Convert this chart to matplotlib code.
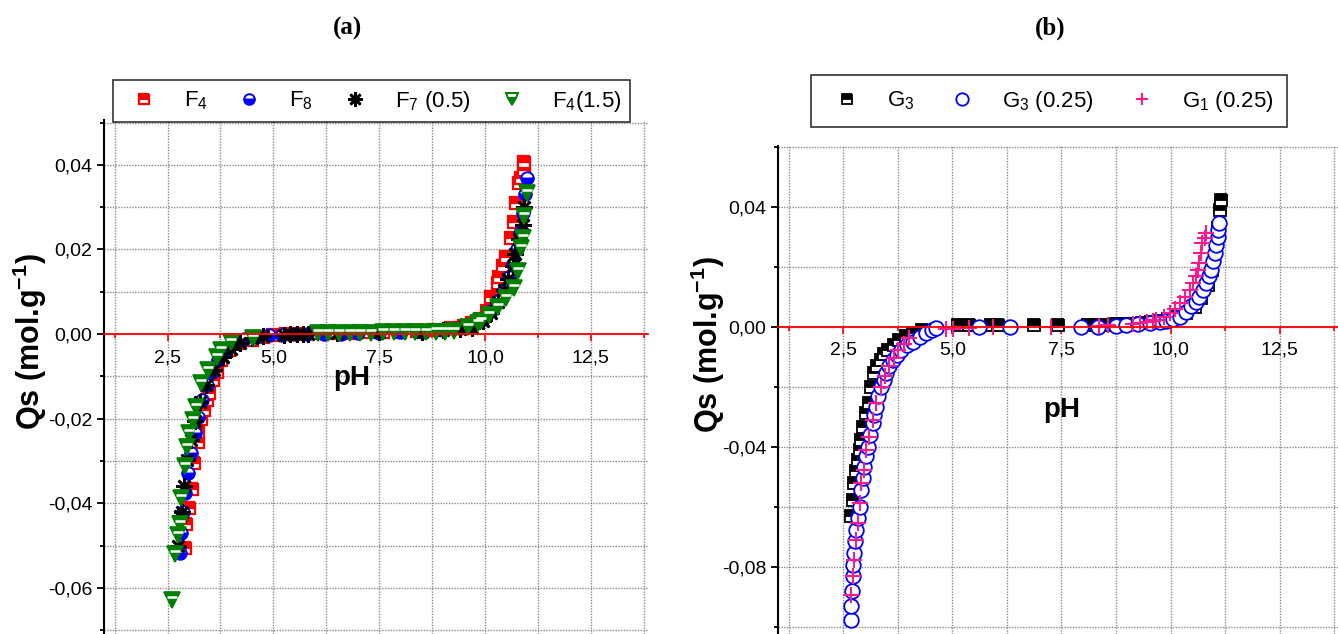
import numpy as np
import matplotlib
matplotlib.use('Agg')
import matplotlib.pyplot as plt
from matplotlib.ticker import MultipleLocator, FuncFormatter
from matplotlib.transforms import ScaledTranslation
from matplotlib.lines import Line2D

plt.rcParams['font.family'] = ['Liberation Sans Narrow', 'Liberation Sans', 'DejaVu Sans']
plt.rcParams['mathtext.fontset'] = 'custom'
plt.rcParams['mathtext.rm'] = 'Liberation Sans Narrow'
plt.rcParams['mathtext.bf'] = 'Liberation Sans:bold'
plt.rcParams['mathtext.default'] = 'regular'

# ---- panel (a) data ----
f4_ph = [2.91, 2.93, 3.00, 3.07, 3.13, 3.22, 3.22, 3.30, 3.37, 3.44, 3.48, 3.58, 3.68, 3.77,
         3.96, 4.17, 4.50, 4.75, 5.0, 5.3, 5.6, 6.0, 6.4, 6.8, 7.2, 7.6, 8.0, 8.4, 8.8, 9.2,
         9.5, 9.7, 9.9, 10.05, 10.14, 10.3, 10.33, 10.42, 10.5, 10.61, 10.68, 10.73, 10.8,
         10.86, 10.91, 10.91]
f4_qs = [-0.0505, -0.0450, -0.0410, -0.0366, -0.0305, -0.0254, -0.0231, -0.0200, -0.0180,
         -0.0156, -0.0140, -0.0109, -0.0089, -0.0061, -0.0038, -0.0021, -0.0014, -0.0006,
         -0.0003, 0.0, 0.0001, 0.0002, 0.0003, 0.0003, 0.0004, 0.0005, 0.0006, 0.0008,
         0.0010, 0.0014, 0.0020, 0.0027, 0.0035, 0.0055, 0.0088, 0.0120, 0.0135, 0.0160,
         0.0182, 0.0227, 0.0265, 0.0310, 0.0356, 0.0370, 0.0387, 0.0407]

f8_ph = [2.79, 2.82, 2.86, 2.92, 2.99, 3.06, 3.14, 3.22, 3.32, 3.43, 3.55, 3.70, 3.86, 4.05,
         4.3, 4.6, 4.9, 5.2, 5.5, 5.8, 6.2, 6.6, 7.0, 7.5, 8.0, 8.5, 9.0, 9.4, 9.7, 9.95,
         10.15, 10.3, 10.45, 10.56, 10.66, 10.75, 10.83, 10.89, 10.95, 11.0]
f8_qs = [-0.0518, -0.0470, -0.0420, -0.0375, -0.0329, -0.0280, -0.0235, -0.0195, -0.0155,
         -0.0120, -0.0090, -0.0062, -0.0040, -0.0024, -0.0012, -0.0006, -0.0003, -0.0002,
         -0.0001, 0.0, 0.0, 0.0001, 0.0002, 0.0003, 0.0004, 0.0006, 0.0009, 0.0014, 0.0022,
         0.0035, 0.0055, 0.0078, 0.0105, 0.0135, 0.0165, 0.0200, 0.0240, 0.0285, 0.0330, 0.0370]

f7_ph = [2.75, 2.79, 2.85, 2.89, 2.96, 3.05, 3.15, 3.27, 3.42, 3.60, 3.80, 4.00, 4.21, 4.50,
         4.76, 5.26, 5.40, 5.55, 5.70, 5.82, 6.5, 7.5, 8.5, 9.0, 9.4, 9.7, 9.95, 10.15, 10.3,
         10.45, 10.55, 10.65, 10.72, 10.80, 10.89, 10.92]
f7_qs = [-0.0500, -0.0431, -0.0420, -0.0360, -0.0297, -0.0250, -0.0205, -0.0160, -0.0120,
         -0.0085, -0.0055, -0.0035, -0.0020, -0.0010, -0.0005, -0.0002, -0.0001, 0.0, 0.0,
         0.0, 0.0002, 0.0004, 0.0006, 0.0009, 0.0012, 0.0015, 0.0030, 0.0050, 0.0075, 0.0105,
         0.0130, 0.0160, 0.0190, 0.0225, 0.0257, 0.0300]

f415_ph = [2.61, 2.67, 2.74, 2.79, 2.83, 2.91, 2.97, 3.01, 3.11, 3.18, 3.30, 3.46, 3.66, 3.77,
           4.01, 4.52, 6.05, 6.29, 6.55, 6.80, 7.05, 7.31, 7.60, 7.85, 8.10, 8.35, 8.60, 8.85,
           9.05, 9.27, 9.59, 9.83, 9.90, 10.10, 10.30, 10.50, 10.68, 10.78, 10.85, 10.89,
           10.93, 11.0]
f415_qs = [-0.0628, -0.0520, -0.0474, -0.0450, -0.0387, -0.0313, -0.0266, -0.0234, -0.0203,
           -0.0172, -0.0116, -0.0085, -0.0054, -0.0038, -0.0018, -0.0010, 0.0002, 0.0002,
           0.0002, 0.0003, 0.0003, 0.0003, 0.0004, 0.0004, 0.0004, 0.0005, 0.0005, 0.0006,
           0.0006, 0.0008, 0.0017, 0.0025, 0.0030, 0.0045, 0.0065, 0.0085, 0.0108, 0.0150,
           0.0203, 0.0227, 0.0280, 0.0333]

# ---- panel (b) data ----
g3_ph = [2.68, 2.71, 2.75, 2.79, 2.83, 2.87, 2.91, 2.96, 3.02, 3.08, 3.14, 3.21, 3.28, 3.36,
         3.44, 3.52, 3.65, 3.78, 3.93, 4.09, 4.30, 5.12, 5.39, 5.89, 6.04, 6.88, 7.42, 8.10,
         8.30, 8.55, 8.75, 8.95, 9.13, 9.35, 9.55, 9.75, 9.95, 10.15, 10.35, 10.55, 10.70,
         10.85, 10.95, 11.05, 11.10, 11.14, 11.16]
g3_qs = [-0.0633, -0.0578, -0.0522, -0.0480, -0.0444, -0.0410, -0.0378, -0.0335, -0.0289,
         -0.0256, -0.0200, -0.0156, -0.0130, -0.0111, -0.0092, -0.0078, -0.0060, -0.0044,
         -0.0030, -0.0022, -0.0012, 0.0005, 0.0005, 0.0005, 0.0005, 0.0005, 0.0005, 0.0005,
         0.0006, 0.0006, 0.0007, 0.0008, 0.0009, 0.0011, 0.0014, 0.0018, 0.0024, 0.0032,
         0.0045, 0.0065, 0.0095, 0.0140, 0.0190, 0.0260, 0.0330, 0.0389, 0.0422]

g3b_ph = [2.68, 2.68, 2.70, 2.71, 2.73, 2.75, 2.77, 2.79, 2.83, 2.87, 2.91, 2.94, 2.97, 3.01,
          3.06, 3.11, 3.17, 3.21, 3.25, 3.30, 3.36, 3.42, 3.48, 3.55, 3.63, 3.72, 3.82, 3.95,
          4.09, 4.25, 4.40, 4.52, 4.63, 5.62, 6.31, 7.95, 8.33, 8.75, 8.98, 9.25, 9.52, 9.75,
          9.90, 10.05, 10.21, 10.35, 10.47, 10.58, 10.66, 10.75, 10.82, 10.88, 10.93, 10.98,
          11.01, 11.05, 11.08, 11.10, 11.12]
g3b_qs = [-0.0978, -0.0933, -0.0880, -0.0833, -0.0795, -0.0756, -0.0715, -0.0678, -0.0638,
          -0.0600, -0.0544, -0.0505, -0.0467, -0.0432, -0.0400, -0.0360, -0.0322, -0.0295,
          -0.0267, -0.0232, -0.0200, -0.0178, -0.0156, -0.0133, -0.0111, -0.0094, -0.0078,
          -0.0062, -0.0050, -0.0035, -0.0022, -0.0012, -0.0005, 0.0, 0.0, 0.0, 0.0, 0.0003,
          0.0005, 0.0008, 0.0012, 0.0015, 0.0017, 0.0024, 0.0033, 0.0048, 0.0067, 0.0083,
          0.0100, 0.0122, 0.0145, 0.0167, 0.0189, 0.0218, 0.0245, 0.0272, 0.0300, 0.0322, 0.0346]

g1_ph = [2.68, 2.71, 2.75, 2.79, 2.83, 2.87, 2.91, 2.98, 3.02, 3.08, 3.17, 3.25, 3.36, 3.45,
         3.55, 3.65, 3.75, 3.88, 4.01, 4.86, 5.01, 5.39, 5.92, 7.26, 8.37, 8.56, 9.13, 9.29,
         9.45, 9.60, 9.67, 9.85, 9.98, 10.10, 10.21, 10.33, 10.44, 10.52, 10.59, 10.63,
         10.66, 10.70, 10.73, 10.78, 10.82]
g1_qs = [-0.0894, -0.0833, -0.0778, -0.0711, -0.0656, -0.0589, -0.0522, -0.0478, -0.0411,
         -0.0367, -0.0311, -0.0256, -0.0200, -0.0165, -0.0133, -0.0105, -0.0078, -0.0058,
         -0.0039, -0.0008, -0.0008, -0.0004, -0.0002, 0.0, 0.0003, 0.0004, 0.0008, 0.0012,
         0.0016, 0.0019, 0.0022, 0.0033, 0.0046, 0.0060, 0.0078, 0.0100, 0.0122, 0.0145,
         0.0167, 0.0190, 0.0212, 0.0245, 0.0279, 0.0295, 0.0312]


def comma(fmt):
    def f(v, pos):
        s = fmt.format(v).replace('.', ',')
        if s.startswith('-') and float(fmt.format(v)) == 0:
            s = s[1:]
        return s
    return FuncFormatter(f)


def style_axis(ax, xlim, ylim, ymaj, ymin):
    ax.set_xlim(*xlim)
    ax.set_ylim(*ylim)
    ax.spines['top'].set_visible(False)
    ax.spines['right'].set_visible(False)
    ax.spines['bottom'].set_position(('data', 0))
    ax.spines['bottom'].set_color('red')
    ax.spines['bottom'].set_linewidth(1.3)
    ax.spines['left'].set_linewidth(1.5)
    ax.xaxis.set_major_locator(MultipleLocator(2.5))
    ax.xaxis.set_minor_locator(MultipleLocator(1.25))
    ax.yaxis.set_major_locator(MultipleLocator(ymaj))
    ax.yaxis.set_minor_locator(MultipleLocator(ymin))
    ax.xaxis.set_major_formatter(comma('{:.1f}'))
    ax.yaxis.set_major_formatter(comma('{:.2f}'))
    ax.tick_params(axis='x', which='both', direction='out', colors='red', labelcolor='black',
                   labelsize=14, length=5, width=1.2, pad=6)
    ax.tick_params(axis='x', which='minor', length=3)
    ax.tick_params(axis='y', which='both', direction='out', labelsize=14, length=5, width=1.3)
    ax.tick_params(axis='y', which='minor', length=3)
    ax.grid(True, which='both', color='#8a8a8a', linestyle=(0, (1, 1)), linewidth=1.0)
    ax.set_axisbelow(True)


fig = plt.figure(figsize=(13.38, 6.34), dpi=100)

# ---- (a) ----
ax1 = fig.add_axes([104 / 1338, 0.0, 544 / 1338, 1 - 120 / 634])
style_axis(ax1, (1.0, 13.85), (-0.0709, 0.0506), 0.02, 0.01)
h1, = ax1.plot(f4_ph, f4_qs, 's', ms=8.5, color='red', mec='red', fillstyle='top',
               markerfacecoloralt='white', mew=1.6)
h2, = ax1.plot(f8_ph, f8_qs, 'o', ms=9, color='blue', mec='blue', fillstyle='bottom',
               markerfacecoloralt='white', mew=1.4)
h3, = ax1.plot(f7_ph, f7_qs, linestyle='none', marker=(8, 2, 0), ms=12, color='black', mew=1.9)
ax1.plot(f415_ph, f415_qs, 'v', ms=11, color='green', mec='green', mew=1.2)
# white band near the top of each triangle
shift = ax1.transData + ScaledTranslation(0, 2.2 / 72, fig.dpi_scale_trans)
ax1.plot(f415_ph, f415_qs, '_', ms=6.5, color='white', mew=1.8, transform=shift)
h4 = Line2D([], [], ls='none', marker='v', ms=11, color='green', mec='green',
            fillstyle='bottom', markerfacecoloralt='white', mew=1.4)

leg_a = fig.legend([h1, h2, h3, h4],
                   ['F$_4$', 'F$_8$', 'F$_7$ (0.5)', 'F$_4$(1.5)'], loc='center',
                   bbox_to_anchor=(113 / 1338, 1 - 122 / 634, 517 / 1338, 42 / 634),
                   mode='expand', ncol=4, fontsize=16, frameon=True, fancybox=False,
                   edgecolor='black', handletextpad=0.8, borderaxespad=0, borderpad=0.4,
                   markerscale=0.85)
leg_a.get_frame().set_linewidth(1.2)

fig.text(352 / 1338, 1 - 378 / 634, 'pH', fontsize=20, fontweight='bold',
         family='Liberation Sans', ha='center', va='center')
fig.text(30 / 1338, 1 - 342 / 634, 'Qs (mol.g$\\mathbf{^{-1}}$)', fontsize=22,
         fontweight='bold', family='Liberation Sans', rotation=90, ha='center', va='center')
fig.text(348 / 1338, 1 - 28 / 634, '(a)', fontsize=18, fontweight='bold',
         family='Liberation Serif', ha='center', va='center')

# ---- (b) ----
ax2 = fig.add_axes([778 / 1338, 0.0, 560 / 1338, 1 - 146 / 634])
style_axis(ax2, (1.0, 13.84), (-0.1025, 0.0602), 0.04, 0.02)
ax2.plot(g3_ph, g3_qs, 's', ms=8, color='black', mec='black', fillstyle='top',
         markerfacecoloralt='white', mew=1.3, label='G$_3$')
ax2.plot(g3b_ph, g3b_qs, 'o', ms=10.5, color='blue', mfc='white', mec='blue', mew=1.3,
         label='G$_3$ (0.25)')
ax2.plot(g1_ph, g1_qs, '+', ms=11, color='#ff1a8c', mew=1.5, label='G$_1$ (0.25)')

leg_b = fig.legend(*ax2.get_legend_handles_labels(), loc='center',
                   bbox_to_anchor=(811 / 1338, 1 - 127 / 634, 476 / 1338, 52 / 634),
                   mode='expand', ncol=3, fontsize=16, frameon=True, fancybox=False,
                   edgecolor='black', handletextpad=0.8, borderaxespad=0, borderpad=0.6,
                   markerscale=0.85)
leg_b.get_frame().set_linewidth(1.2)

fig.text(1062 / 1338, 1 - 410 / 634, 'pH', fontsize=20, fontweight='bold',
         family='Liberation Sans', ha='center', va='center')
fig.text(708 / 1338, 1 - 345 / 634, 'Qs (mol.g$\\mathbf{^{-1}}$)', fontsize=22,
         fontweight='bold', family='Liberation Sans', rotation=90, ha='center', va='center')
fig.text(1050 / 1338, 1 - 28 / 634, '(b)', fontsize=18, fontweight='bold',
         family='Liberation Serif', ha='center', va='center')

fig.savefig('out.png', dpi=100)
